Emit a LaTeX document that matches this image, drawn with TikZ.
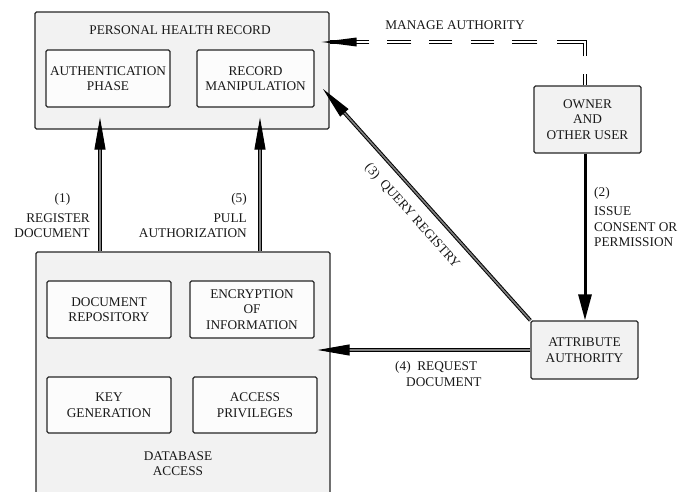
\documentclass[tikz,border=0pt]{standalone}
\usepackage{fontspec}
\setmainfont{Liberation Serif}
\usetikzlibrary{arrows.meta,calc}
\begin{document}
\begin{tikzpicture}[x=1pt,y=-1pt,
  outerbox/.style={draw=black!85, line width=1.3pt, fill=black!5, rounded corners=1.5pt},
  innerbox/.style={draw=black!85, line width=1.3pt, fill=black!1, rounded corners=1.5pt,
    align=center, font=\fontsize{13.3}{15.5}\selectfont, text=black!90, inner sep=0pt},
  lbl/.style={font=\fontsize{13.3}{15.5}\selectfont, text=black!90, inner sep=0pt},
  dbl/.style={draw=black, line width=1pt, double=black!50, double distance=1.6pt},
  bigtip/.style={-{Triangle[length=32pt,width=11pt]}},
  mgr/.style={draw=black, line width=1pt, double=white, double distance=1.8pt,
    dash pattern=on 11pt off 18pt on 42pt off 20pt on 25pt off 18pt on 23pt off 19pt on 23pt off 18pt on 24pt off 18pt on 60pt}
]
\clip (0,0) rectangle (680,491);

% Personal health record
\node[outerbox, minimum width=294pt, minimum height=117pt] (phr) at (182,70.5) {};
\node[lbl] (phrt) at (180,30) {PERSONAL HEALTH RECORD};
\node[innerbox, minimum width=124pt, minimum height=57pt] (auth) at (108,78.5) {AUTHENTICATION\\PHASE};
\node[innerbox, minimum width=117pt, minimum height=57pt] (rec) at (255.5,78.5) {RECORD\\MANIPULATION};

% Database access
\node[outerbox, minimum width=294pt, minimum height=260pt] (db) at (183,382) {};
\node[innerbox, minimum width=124pt, minimum height=57pt] (docrep) at (109,309.5) {DOCUMENT\\REPOSITORY};
\node[innerbox, minimum width=124pt, minimum height=57pt] (enc) at (252,309.5) {ENCRYPTION\\OF\\INFORMATION};
\node[innerbox, minimum width=124pt, minimum height=56pt] (keygen) at (109,405) {KEY\\GENERATION};
\node[innerbox, minimum width=124pt, minimum height=56pt] (acc) at (255,405) {ACCESS\\PRIVILEGES};
\node[lbl, align=center] (dbt) at (178,463.5) {DATABASE\\ACCESS};

% Owner and attribute authority
\node[outerbox, minimum width=107pt, minimum height=67pt, align=center, lbl] (owner) at (587.5,119.5) {OWNER\\AND\\OTHER USER};
\node[outerbox, minimum width=107pt, minimum height=58pt, align=center, lbl] (attr) at (584.5,350) {ATTRIBUTE\\AUTHORITY};

% helper coordinates
\coordinate (x1) at (100,0);
\coordinate (x5) at (260,0);
\coordinate (q3) at (323,89);

% (1) register document
\draw[dbl, bigtip, shorten >=-12pt] (db.north -| x1) -- (phr.south -| x1);
\node[lbl] (l1a) at (62.5,199) {(1)};
\node[lbl, anchor=east] (l1b) at (90,218) {REGISTER};
\node[lbl, anchor=east] (l1c) at (90,233) {DOCUMENT};

% (5) pull authorization
\draw[dbl, bigtip, shorten >=-12pt] (db.north -| x5) -- (phr.south -| x5);
\node[lbl, anchor=east] (l5a) at (247,199) {(5)};
\node[lbl, anchor=east] (l5b) at (247,218) {PULL};
\node[lbl, anchor=east] (l5c) at (247,233) {AUTHORIZATION};

% (2) issue consent
\draw[draw=black, line width=3pt, -{Triangle[length=26pt,width=13pt]}] (owner.south -| 585,0) -- (attr.north -| 585,0);
\node[lbl, anchor=west] (l2a) at (594,193) {(2)};
\node[lbl, anchor=west, align=left] (l2b) at (594,227) {ISSUE\\CONSENT OR\\PERMISSION};

% (3) query registry
\draw[dbl, bigtip] (attr.north west) -- (q3);
\node[lbl, rotate=-48.1] (l3) at (412,216) {(3)\ \ QUERY REGISTRY};

% (4) request document
\draw[dbl, bigtip, shorten >=-13pt] (attr.west) -- (attr.west -| db.east);
\node[lbl, anchor=west] (l4a) at (395,367) {(4)\ \ REQUEST};
\node[lbl, anchor=west] (l4b) at (406,382) {DOCUMENT};

% manage authority
\coordinate (m1) at (585,42);
\draw[mgr] (owner.north -| m1) -- (m1) -- (m1 -| phr.east);
\fill[black] ($(m1 -| phr.east)+(-8,0)$) -- ++(35,-4.5) -- ++(0,9) -- cycle;
\node[lbl] (lm) at (455,25) {MANAGE AUTHORITY};
\end{tikzpicture}
\end{document}
